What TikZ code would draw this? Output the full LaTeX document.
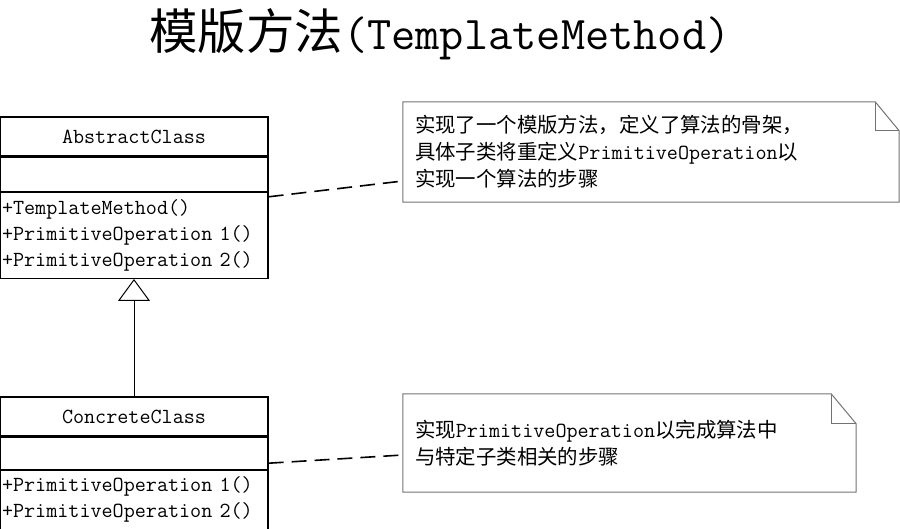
\documentclass[tikz,border=0pt]{standalone}
\usepackage{fontspec}
\newfontfamily\cjk[Scale=0.95]{Noto Sans CJK SC}
\newfontfamily\cjktitle[Scale=1.03]{Noto Sans CJK SC}
\usetikzlibrary{positioning,arrows.meta}
\pgfdeclarelayer{bg}
\pgfsetlayers{bg,main}
\tikzset{
  classbox/.style={draw, line width=1.2pt, minimum width=268pt, inner sep=0pt, font=\ttfamily\fontsize{21.5}{26}\selectfont},
  opsbox/.style={classbox, align=left, text width=264pt, inner xsep=2pt},
  notebox/.style={inner xsep=12pt, inner ysep=0pt, align=left, font=\ttfamily\fontsize{21.5}{27}\selectfont},
  noteline/.style={draw=black!55, line width=1pt},
  link/.style={dash pattern=on 15pt off 8pt, line width=1.6pt},
  inherit/.style={line width=1pt, -{Triangle[open, length=22pt, width=32pt]}}
}

\begin{document}
\begin{tikzpicture}[x=1pt, y=-1pt]
        \useasboundingbox (0,0) rectangle (900,529);
        \node (title) at (440,34) {\ttfamily\fontsize{47}{50}\selectfont{\cjktitle 模版方法}(TemplateMethod)};
        \node (abstract) [classbox, minimum height=39pt] at (134,136.5) {AbstractClass};
        \node (abstractattr) [classbox, minimum height=34pt, below=0pt of abstract] {};
        \node (abstractops) [opsbox, minimum height=86pt, below=0pt of abstractattr] {+TemplateMethod()\\+PrimitiveOperation 1()\\+PrimitiveOperation 2()};
        \node (concrete) [classbox, minimum height=39pt] at (134,416.5) {ConcreteClass};
        \node (concreteattr) [classbox, minimum height=32pt, below=0pt of concrete] {};
        \node (concreteops) [opsbox, minimum height=59pt, below=0pt of concreteattr] {+PrimitiveOperation 1()\\+PrimitiveOperation 2()};
        \node (note1) [notebox, text width=472pt, minimum height=100pt] at (651,152) {{\cjk 实现了一个模版方法，定义了算法的骨架，}\\{\cjk 具体子类将重定义}PrimitiveOperation{\cjk 以}\\{\cjk 实现一个算法的步骤}};
        \node (note2) [notebox, text width=429pt, minimum height=98pt] at (629.5,443) {{\cjk 实现}PrimitiveOperation{\cjk 以完成算法中}\\{\cjk 与特定子类相关的步骤}};
        \draw[noteline] (note1.north west) -- ([xshift=-24pt]note1.north east) -- ([yshift=-29pt]note1.north east) -- (note1.south east) -- (note1.south west) -- cycle;
        \draw[noteline] ([xshift=-24pt]note1.north east) -- ++(0,-29pt) -- ([yshift=-29pt]note1.north east);
        \draw[noteline] (note2.north west) -- ([xshift=-25pt]note2.north east) -- ([yshift=-30pt]note2.north east) -- (note2.south east) -- (note2.south west) -- cycle;
        \draw[noteline] ([xshift=-25pt]note2.north east) -- ++(0,-30pt) -- ([yshift=-30pt]note2.north east);
        \begin{pgfonlayer}{bg}
                \draw[inherit] (concrete.north) -- (abstractops.south);
                \draw[link] ([yshift=-5pt]abstractops.north east) -- ([yshift=-29pt]note1.west);
                \draw[link] ([yshift=-10pt]concreteattr.east) -- ([yshift=-12pt]note2.west);
        \end{pgfonlayer}
\end{tikzpicture}
\end{document}
